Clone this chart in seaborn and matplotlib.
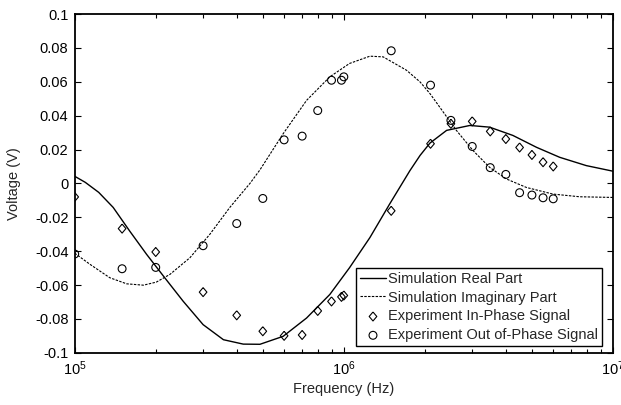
import numpy as np
import pandas as pd
import matplotlib
matplotlib.use("Agg")
import matplotlib.pyplot as plt
from matplotlib.ticker import FixedLocator, FixedFormatter, LogLocator, NullFormatter
import seaborn as sns

# ---- data ----
sim_freq_real = [1.00e5, 1.095e5, 1.228e5, 1.39e5, 1.60e5, 1.85e5, 2.16e5, 2.53e5, 3.00e5, 3.57e5,
                 4.23e5, 4.88e5, 5.95e5, 7.27e5, 8.87e5, 1.05e6, 1.25e6, 1.48e6, 1.76e6,
                 1.92e6, 2.09e6, 2.41e6, 2.94e6, 3.48e6, 4.25e6, 5.20e6, 6.34e6, 7.96e6, 1.00e7]
sim_real = [0.0042, 0.0006, -0.0053, -0.0142, -0.0281, -0.0419, -0.0557, -0.0696, -0.0834, -0.0923,
            -0.0949, -0.0950, -0.0903, -0.0795, -0.0656, -0.0498, -0.0320, -0.0122, 0.0075,
            0.0165, 0.0238, 0.0313, 0.0342, 0.0332, 0.0283, 0.0213, 0.0154, 0.0105, 0.0072]

sim_freq_imag = [1.00e5, 1.14e5, 1.35e5, 1.56e5, 1.80e5, 2.01e5, 2.26e5, 2.68e5, 3.18e5,
                 3.77e5, 4.48e5, 4.88e5, 5.95e5, 7.27e5, 8.87e5, 1.05e6, 1.25e6, 1.40e6,
                 1.71e6, 1.92e6, 2.09e6, 2.27e6, 2.62e6, 3.02e6, 3.48e6, 4.02e6, 4.77e6,
                 5.98e6, 7.52e6, 1.00e7]
sim_imag = [-0.0412, -0.0478, -0.0557, -0.0593, -0.0601, -0.0583, -0.0537, -0.0439, -0.0300,
            -0.0142, 0.0000, 0.0080, 0.0293, 0.0490, 0.0629, 0.0708, 0.0751, 0.0747,
            0.0668, 0.0599, 0.0530, 0.0451, 0.0313, 0.0194, 0.0095, 0.0026, -0.0024,
            -0.0063, -0.0079, -0.0083]

exp_freq = [1e5, 1.5e5, 2e5, 3e5, 4e5, 5e5, 6e5, 7e5, 8e5, 9e5, 9.8e5, 1e6,
            1.5e6, 2.1e6, 2.5e6, 3e6, 3.5e6, 4e6, 4.5e6, 5e6, 5.5e6, 6e6]
exp_in_phase = [-0.0080, -0.0267, -0.0405, -0.0642, -0.0779, -0.0873, -0.0900, -0.0895,
                -0.0753, -0.0697, -0.0670, -0.0662, -0.0162, 0.0234, 0.0352, 0.0366,
                0.0307, 0.0262, 0.0212, 0.0168, 0.0125, 0.0100]
exp_out_phase = [-0.0417, -0.0504, -0.0496, -0.0368, -0.0237, -0.0089, 0.0257, 0.0279,
                 0.0430, 0.0609, 0.0609, 0.0629, 0.0783, 0.0580, 0.0372, 0.0218, 0.0093,
                 0.0053, -0.0055, -0.0069, -0.0085, -0.0091]

y_ticks = [-0.1, -0.08, -0.06, -0.04, -0.02, 0, 0.02, 0.04, 0.06, 0.08, 0.1]
y_tick_labels = ["-0.1", "-0.08", "-0.06", "-0.04", "-0.02", "0", "0.02", "0.04", "0.06", "0.08", "0.1"]
x_ticks = [1e5, 1e6, 1e7]
x_tick_labels = ["$10^{5}$", "$10^{6}$", "$10^{7}$"]

labels = ["Simulation Real Part", "Simulation Imaginary Part",
          "Experiment In-Phase Signal", "Experiment Out of-Phase Signal"]

# ---- style ----
sns.set_style("ticks")
plt.rcParams["font.family"] = ["Liberation Sans", "DejaVu Sans"]
plt.rcParams["mathtext.default"] = "regular"
plt.rcParams["axes.unicode_minus"] = False

FS = 10.5

fig = plt.figure(figsize=(6.21, 4.05), dpi=100)
ax = fig.add_axes([0.1203, 0.129, 0.8667, 0.8364])

df_real = pd.DataFrame({"f": sim_freq_real, "v": sim_real})
df_imag = pd.DataFrame({"f": sim_freq_imag, "v": sim_imag})
df_exp = pd.DataFrame({"f": exp_freq, "inp": exp_in_phase, "outp": exp_out_phase})

sns.lineplot(data=df_real, x="f", y="v", ax=ax, color="black", lw=1.0,
             label=labels[0], estimator=None)
sns.lineplot(data=df_imag, x="f", y="v", ax=ax, color="black", lw=0.8,
             linestyle=(0, (2.2, 1.2)), label=labels[1], estimator=None)

diamond = [(0, 1), (0.85, 0), (0, -1), (-0.85, 0), (0, 1)]
sns.scatterplot(data=df_exp, x="f", y="inp", ax=ax, marker=diamond, s=42,
                facecolor="none", edgecolor="black", linewidth=0.8, label=labels[2])
sns.scatterplot(data=df_exp, x="f", y="outp", ax=ax, marker="o", s=32,
                facecolor="none", edgecolor="black", linewidth=0.8, label=labels[3])

ax.set_xscale("log")
ax.set_xlim(1e5, 1e7)
ax.set_ylim(-0.1, 0.1)
ax.xaxis.set_major_locator(FixedLocator(x_ticks))
ax.xaxis.set_major_formatter(FixedFormatter(x_tick_labels))
ax.xaxis.set_minor_locator(LogLocator(base=10, subs=np.arange(2, 10), numticks=20))
ax.xaxis.set_minor_formatter(NullFormatter())
ax.yaxis.set_major_locator(FixedLocator(y_ticks))
ax.yaxis.set_major_formatter(FixedFormatter(y_tick_labels))

ax.tick_params(which="both", direction="in", top=True, right=True, colors="black",
               labelsize=FS, width=0.8)
ax.tick_params(which="major", length=4.5, pad=4.5)
ax.tick_params(which="minor", length=3)
for sp in ax.spines.values():
    sp.set_visible(True)
    sp.set_linewidth(1.3)
    sp.set_color("black")

ax.set_xlabel("Frequency (Hz)", fontsize=FS, labelpad=3)
ax.set_ylabel("Voltage (V)", fontsize=FS, labelpad=10)

leg = ax.legend(loc="lower right", bbox_to_anchor=(0.9796, 0.0206), borderaxespad=0,
                fontsize=FS, frameon=True, fancybox=False,
                edgecolor="black", framealpha=1,
                handlelength=1.8, handletextpad=0.15, borderpad=0.25, labelspacing=0.33)
leg.get_frame().set_linewidth(1.0)

fig.savefig("out.png", dpi=100)
